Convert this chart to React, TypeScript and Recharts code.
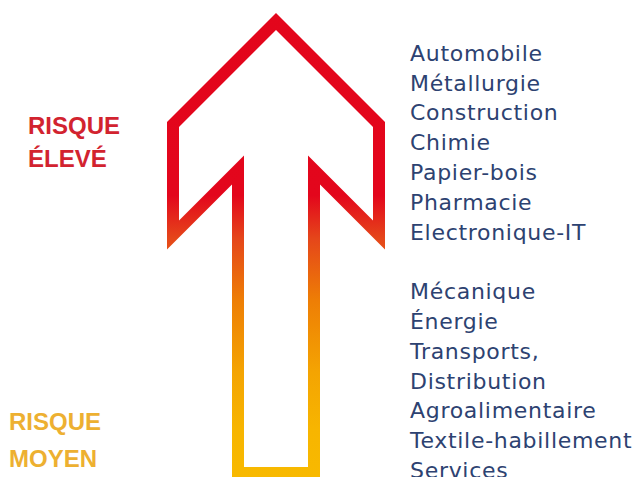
import React from 'react';
import { ComposedChart, Line, Scatter, XAxis, YAxis } from 'recharts';

// secteurs classés par niveau de risque
const highRiskSectors = ['Automobile', 'Métallurgie', 'Construction', 'Chimie', 'Papier-bois', 'Pharmacie', 'Electronique-IT'];
const mediumRiskSectors = ['Mécanique', 'Énergie', 'Transports,', 'Distribution', 'Agroalimentaire', 'Textile-habillement', 'Services'];
const riskLevels = [['RISQUE', 'ÉLEVÉ'], ['RISQUE', 'MOYEN']];

// contour de la flèche (ligne médiane du trait), en unités des axes
const arrowX = [276, 238, 238, 173, 173, 276, 379, 379, 314, 314, 276];
const arrowY = [473, 473, 170, 235, 124.5, 21.5, 124.5, 235, 170, 473, 473];

const W = 638;
const H = 477;
const LIST_X = 410;
const LIST_TOP = 60.7;
const ROW = 29.8;

const arrowData = arrowX.map((x, i) => ({ x, y: arrowY[i] }));

const sectorRows = [
    ...highRiskSectors.map((name, i) => ({ x: LIST_X, y: LIST_TOP + i * ROW, name })),
    ...mediumRiskSectors.map((name, i) => ({ x: LIST_X, y: LIST_TOP + (i + 8) * ROW, name })),
];

const levelLayout = [
    { x: 28, ys: [134.3, 166.7], color: '#D2232F' },
    { x: 9, ys: [430, 466.7], color: '#EDB031' },
];
const levelRows = riskLevels.flatMap((lines, k) =>
    lines.map((name, j) => ({ x: levelLayout[k].x, y: levelLayout[k].ys[j], name, color: levelLayout[k].color }))
);

const SectorText = (props: any) => (
    <text x={props.cx} y={props.cy} fill="#2D4271" fontFamily="'DejaVu Sans', sans-serif" fontSize={22} letterSpacing={0.7}>
        {props.payload.name}
    </text>
);

const LevelText = (props: any) => (
    <text x={props.cx} y={props.cy} fill={props.payload.color} fontFamily="'Liberation Sans', Arial, sans-serif" fontSize={24} fontWeight="bold">
        {props.payload.name}
    </text>
);

const App: React.FC = () => {
    return (
        <div style={{ width: W, height: H, background: '#fff' }}>
            <style>{'body { margin: 0; }'}</style>
            <ComposedChart width={W} height={H} margin={{ top: 0, right: 0, bottom: 0, left: 0 }}>
                <defs>
                    <linearGradient id="arrowGrad" gradientUnits="userSpaceOnUse" x1="0" y1="0" x2="0" y2={H}>
                        <stop offset="0" stopColor="#E3051B" />
                        <stop offset="0.41" stopColor="#E3061C" />
                        <stop offset="0.5" stopColor="#E5461A" />
                        <stop offset="0.63" stopColor="#EE7E05" />
                        <stop offset="0.78" stopColor="#F4A402" />
                        <stop offset="0.9" stopColor="#F7B500" />
                        <stop offset="1" stopColor="#F8B900" />
                    </linearGradient>
                </defs>
                <XAxis type="number" dataKey="x" domain={[0, W]} hide allowDataOverflow />
                <YAxis type="number" dataKey="y" domain={[0, H]} reversed hide allowDataOverflow />
                <Line
                    data={arrowData}
                    dataKey="y"
                    type="linear"
                    stroke="url(#arrowGrad)"
                    strokeWidth={12}
                    strokeLinejoin="miter"
                    dot={false}
                    activeDot={false}
                    isAnimationActive={false}
                />
                <Scatter data={sectorRows} dataKey="y" shape={SectorText} isAnimationActive={false} />
                <Scatter data={levelRows} dataKey="y" shape={LevelText} isAnimationActive={false} />
            </ComposedChart>
        </div>
    );
};

export default App;
